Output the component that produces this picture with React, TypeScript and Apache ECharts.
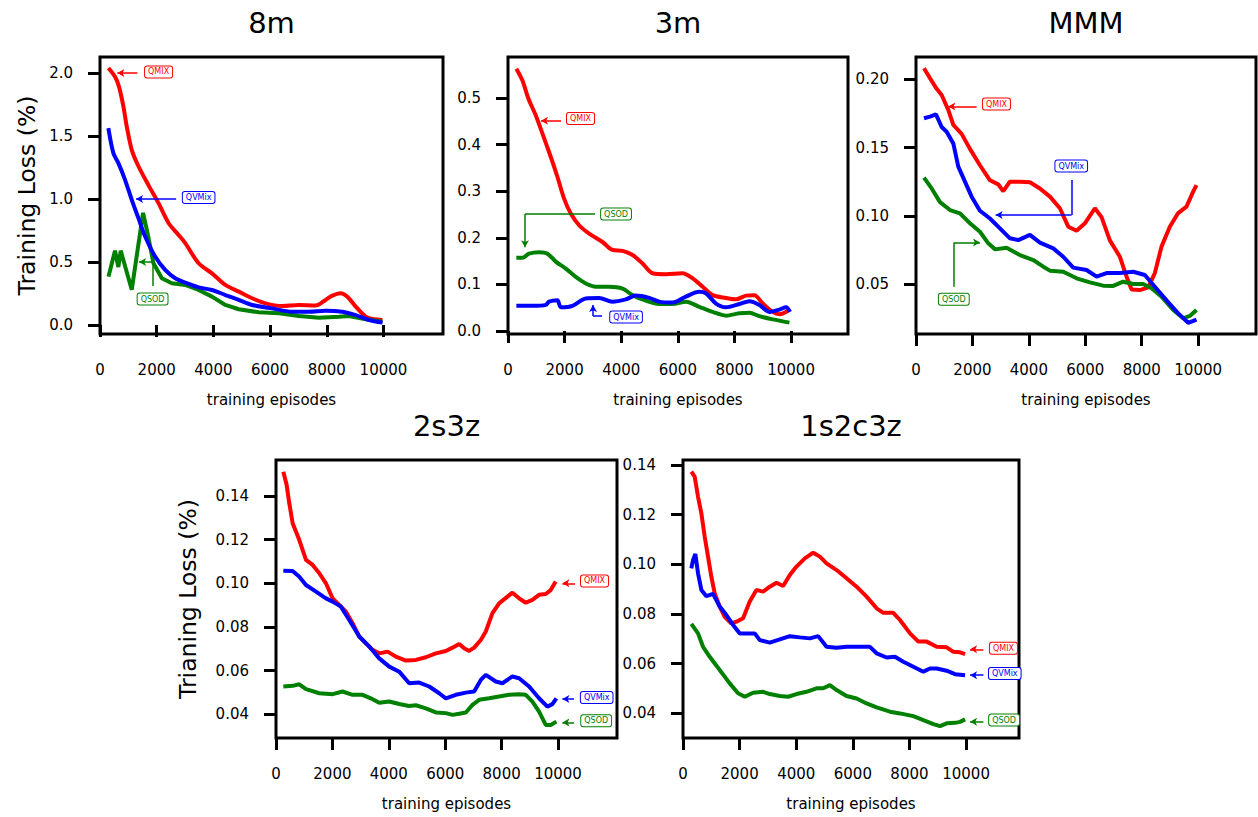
import React, { useEffect, useRef } from "react";
import * as echarts from "echarts";

// ---------------- data ----------------
const m8QmixX = [295, 531, 672, 825, 943, 1120, 1356, 1710, 2064, 2417, 2771, 3007, 3479, 3950, 4422, 4894, 5366, 5837, 6427, 7017, 7606, 7960, 8196, 8491, 8726, 9021, 9375, 9670, 9965];
const m8QmixY = [2.04, 1.97, 1.89, 1.735, 1.576, 1.39, 1.26, 1.11, 0.967, 0.81, 0.715, 0.65, 0.49, 0.41, 0.318, 0.265, 0.212, 0.172, 0.151, 0.159, 0.154, 0.199, 0.233, 0.252, 0.225, 0.146, 0.066, 0.045, 0.04];
const m8QvmixX = [295, 472, 649, 884, 1120, 1356, 1592, 1946, 2299, 2653, 3007, 3479, 3950, 4422, 4894, 5366, 6073, 6781, 7370, 7960, 8550, 9021, 9493, 9965];
const m8QvmixY = [1.563, 1.364, 1.285, 1.152, 0.993, 0.848, 0.702, 0.543, 0.437, 0.371, 0.336, 0.299, 0.278, 0.238, 0.199, 0.159, 0.132, 0.106, 0.106, 0.114, 0.106, 0.079, 0.04, 0.019];
const m8QsodX = [300, 530, 647, 730, 1120, 1519, 1686, 1887, 2181, 2535, 3007, 3479, 3950, 4422, 4894, 5601, 6309, 7017, 7724, 8432, 8785, 9375, 9965];
const m8QsodY = [0.384, 0.59, 0.46, 0.59, 0.28, 0.89, 0.72, 0.49, 0.371, 0.331, 0.318, 0.278, 0.225, 0.159, 0.125, 0.101, 0.093, 0.072, 0.058, 0.066, 0.072, 0.045, 0.026];

const m3QmixX = [295, 507, 719, 979, 1215, 1509, 1745, 1981, 2217, 2512, 2866, 3337, 3691, 4045, 4399, 4752, 5106, 5578, 6167, 6521, 6875, 7229, 7700, 8054, 8408, 8703, 8998, 9351, 9587, 9882];
const m3QmixY = [0.563, 0.538, 0.499, 0.463, 0.424, 0.374, 0.331, 0.284, 0.252, 0.227, 0.209, 0.191, 0.174, 0.172, 0.163, 0.145, 0.124, 0.122, 0.124, 0.113, 0.095, 0.077, 0.071, 0.068, 0.076, 0.077, 0.059, 0.041, 0.036, 0.043];
const m3QvmixX = [295, 861, 1333, 1450, 1745, 1863, 2276, 2748, 3219, 3691, 4163, 4517, 4988, 5342, 5814, 6285, 6757, 6993, 7347, 7700, 8172, 8526, 8880, 9233, 9587, 9823, 9965];
const m3QvmixY = [0.054, 0.054, 0.056, 0.063, 0.066, 0.051, 0.054, 0.07, 0.071, 0.063, 0.068, 0.076, 0.071, 0.063, 0.061, 0.074, 0.084, 0.081, 0.059, 0.051, 0.058, 0.064, 0.056, 0.041, 0.046, 0.051, 0.041];
const m3QsodX = [295, 507, 743, 1097, 1392, 1686, 2040, 2394, 2748, 3101, 3573, 4045, 4399, 4870, 5342, 5814, 6285, 6757, 7229, 7700, 8172, 8526, 8880, 9351, 9941];
const m3QsodY = [0.157, 0.157, 0.166, 0.169, 0.166, 0.149, 0.134, 0.116, 0.102, 0.095, 0.095, 0.091, 0.077, 0.065, 0.058, 0.058, 0.063, 0.052, 0.041, 0.033, 0.038, 0.039, 0.032, 0.025, 0.018];

const mmmQmixX = [283, 496, 732, 909, 1145, 1322, 1617, 1912, 2266, 2621, 2916, 3093, 3329, 3683, 4038, 4392, 4746, 5100, 5396, 5691, 5986, 6340, 6576, 6871, 7225, 7461, 7639, 7934, 8229, 8465, 8701, 8996, 9292, 9587, 9823, 9941];
const mmmQmixY = [0.208, 0.2007, 0.193, 0.1885, 0.1775, 0.1665, 0.16, 0.149, 0.137, 0.126, 0.123, 0.118, 0.125, 0.125, 0.1245, 0.12, 0.114, 0.1055, 0.092, 0.089, 0.0945, 0.1055, 0.099, 0.082, 0.07, 0.0555, 0.046, 0.0456, 0.0475, 0.058, 0.0774, 0.092, 0.102, 0.1067, 0.1177, 0.1225];
const mmmQvmixX = [283, 496, 709, 909, 1086, 1322, 1499, 1735, 1971, 2266, 2621, 2975, 3329, 3624, 4038, 4392, 4864, 5218, 5572, 6045, 6399, 6753, 7225, 7698, 8111, 8465, 8878, 9292, 9646, 9941];
const mmmQvmixY = [0.1714, 0.1726, 0.1743, 0.165, 0.1616, 0.153, 0.136, 0.125, 0.114, 0.1037, 0.098, 0.0908, 0.0835, 0.0822, 0.086, 0.0803, 0.0761, 0.07, 0.062, 0.0603, 0.0554, 0.058, 0.058, 0.059, 0.0566, 0.048, 0.038, 0.0285, 0.0216, 0.024];
const mmmQsodX = [283, 555, 850, 1204, 1558, 1912, 2266, 2562, 2798, 3211, 3683, 4156, 4510, 4746, 5218, 5691, 6163, 6635, 6989, 7343, 7698, 8052, 8347, 8701, 9115, 9469, 9705, 9941];
const mmmQsodY = [0.128, 0.12, 0.11, 0.1042, 0.1018, 0.0945, 0.0883, 0.0798, 0.0754, 0.0766, 0.0712, 0.0676, 0.0627, 0.0598, 0.059, 0.0542, 0.0512, 0.0488, 0.0486, 0.0517, 0.05, 0.05, 0.0469, 0.0408, 0.031, 0.0249, 0.0266, 0.031];

const s23QmixX = [260, 378, 472, 590, 826, 1063, 1299, 1535, 1771, 2007, 2243, 2479, 2715, 2952, 3188, 3424, 3660, 3955, 4250, 4604, 4959, 5313, 5667, 6021, 6257, 6494, 6671, 6848, 7025, 7261, 7438, 7674, 7910, 8205, 8382, 8619, 8855, 9091, 9327, 9563, 9740, 9917];
const s23QmixY = [0.1511, 0.145, 0.1366, 0.1275, 0.1198, 0.1107, 0.1084, 0.1046, 0.1, 0.0931, 0.0901, 0.087, 0.0817, 0.0756, 0.0725, 0.0695, 0.0679, 0.0687, 0.0664, 0.0646, 0.0649, 0.0661, 0.0679, 0.069, 0.0705, 0.0722, 0.0702, 0.069, 0.0705, 0.074, 0.0779, 0.0863, 0.0908, 0.0939, 0.0957, 0.0931, 0.0911, 0.0924, 0.0947, 0.0951, 0.0969, 0.1008];
const s23QvmixX = [260, 590, 826, 1063, 1417, 1771, 2007, 2302, 2597, 2952, 3306, 3660, 4014, 4368, 4722, 5077, 5431, 5785, 6021, 6376, 6730, 7025, 7261, 7438, 7792, 8028, 8382, 8619, 8973, 9327, 9622, 9799, 9941];
const s23QvmixY = [0.1058, 0.1056, 0.103, 0.0992, 0.0962, 0.0931, 0.0916, 0.0893, 0.0832, 0.0756, 0.071, 0.0656, 0.0618, 0.0595, 0.0542, 0.0545, 0.0527, 0.0496, 0.0473, 0.0489, 0.0499, 0.0504, 0.0557, 0.058, 0.055, 0.0542, 0.0573, 0.0565, 0.0527, 0.0473, 0.0435, 0.0446, 0.0473];
const s23QsodX = [260, 590, 826, 1063, 1535, 2007, 2361, 2715, 3070, 3424, 3660, 4014, 4368, 4722, 4959, 5313, 5667, 6021, 6257, 6494, 6730, 6966, 7202, 7556, 7910, 8264, 8619, 8855, 9091, 9327, 9563, 9740, 9941];
const s23QsodY = [0.0527, 0.053, 0.0537, 0.0515, 0.0496, 0.0492, 0.0504, 0.0489, 0.0489, 0.0469, 0.0453, 0.0458, 0.0447, 0.0438, 0.0441, 0.0427, 0.0408, 0.0405, 0.0397, 0.0402, 0.0408, 0.0443, 0.0466, 0.0473, 0.0481, 0.0489, 0.0492, 0.0489, 0.0458, 0.0412, 0.0351, 0.0351, 0.0366];

const c3QmixX = [295, 413, 531, 649, 767, 884, 1002, 1120, 1297, 1474, 1710, 1887, 2123, 2358, 2594, 2830, 3066, 3302, 3538, 3774, 4009, 4304, 4599, 4835, 5071, 5425, 5778, 6132, 6486, 6840, 7075, 7429, 7665, 8019, 8314, 8608, 8962, 9316, 9552, 9788, 9965];
const c3QmixY = [0.1373, 0.1353, 0.1272, 0.1205, 0.1111, 0.1031, 0.095, 0.0883, 0.083, 0.0789, 0.0762, 0.0769, 0.0783, 0.085, 0.0897, 0.089, 0.091, 0.0926, 0.0913, 0.0957, 0.0991, 0.1024, 0.1047, 0.1031, 0.1004, 0.0977, 0.0944, 0.091, 0.087, 0.0823, 0.0805, 0.0805, 0.0776, 0.0722, 0.0689, 0.0689, 0.0668, 0.0666, 0.0648, 0.0646, 0.0639];
const c3QvmixX = [295, 354, 436, 531, 649, 826, 1061, 1297, 1533, 1769, 2005, 2241, 2535, 2712, 3066, 3420, 3774, 4127, 4481, 4776, 5071, 5425, 5778, 6250, 6604, 6840, 7193, 7488, 7783, 8137, 8491, 8726, 8962, 9316, 9611, 9965];
const c3QvmixY = [0.0984, 0.1017, 0.1042, 0.0964, 0.0897, 0.0872, 0.0881, 0.083, 0.0796, 0.0756, 0.0722, 0.0722, 0.0722, 0.0695, 0.0685, 0.0698, 0.0711, 0.0706, 0.0702, 0.0711, 0.0668, 0.0664, 0.0668, 0.0668, 0.0668, 0.0642, 0.0625, 0.0628, 0.0608, 0.0588, 0.0568, 0.0581, 0.0581, 0.0572, 0.0558, 0.0554];
const c3QsodX = [295, 531, 708, 944, 1297, 1651, 1946, 2182, 2476, 2830, 3066, 3420, 3715, 4009, 4363, 4717, 4953, 5189, 5425, 5778, 6132, 6486, 6840, 7311, 7665, 8137, 8491, 8844, 9080, 9316, 9611, 9788, 9965];
const c3QsodY = [0.076, 0.0722, 0.0668, 0.0628, 0.0575, 0.0521, 0.0481, 0.0467, 0.0483, 0.0487, 0.0478, 0.047, 0.0467, 0.0478, 0.0487, 0.0501, 0.0501, 0.0514, 0.0494, 0.047, 0.046, 0.044, 0.0424, 0.0407, 0.04, 0.0389, 0.0373, 0.0357, 0.0349, 0.036, 0.0362, 0.0366, 0.0376];

const titles = ["8m", "3m", "MMM", "2s3z", "1s2c3z"];
const xTicks = [0, 2000, 4000, 6000, 8000, 10000];
const yTicks8m = [0, 0.5, 1.0, 1.5, 2.0];
const yTicks3m = [0, 0.1, 0.2, 0.3, 0.4, 0.5];
const yTicksMMM = [0.05, 0.1, 0.15, 0.2];
const yTicksSmall = [0.04, 0.06, 0.08, 0.1, 0.12, 0.14];

// annotation anchors (data coordinates): label centre, arrow polyline (arrow head at last point)
const notes8m = [
  { name: "QMIX", label: [2067, 2.008], arrow: [[1318, 2.0], [612, 2.0]] },
  { name: "QVMix", label: [3480, 1.012], arrow: [[2686, 1.0], [1272, 1.0]] },
  { name: "QSOD", label: [1855, 0.206], arrow: [[1873, 0.31], [1873, 0.5], [1378, 0.5]] },
];
const notes3m = [
  { name: "QMIX", label: [2562, 0.456], arrow: [[1873, 0.451], [1166, 0.451]] },
  { name: "QVMix", label: [4170, 0.03], arrow: [[3322, 0.032], [3004, 0.032], [3004, 0.056]] },
  { name: "QSOD", label: [3816, 0.251], arrow: [[3074, 0.251], [600, 0.251], [600, 0.18]] },
];
const notesMMM = [
  { name: "QMIX", label: [2851, 0.1818], arrow: [[2149, 0.18], [1145, 0.18]] },
  { name: "QVMix", label: [5502, 0.1364], arrow: [[5514, 0.1262], [5514, 0.1006], [2822, 0.1006]] },
  { name: "QSOD", label: [1340, 0.0389], arrow: [[1346, 0.048], [1346, 0.0805], [2267, 0.0805]] },
];
const notes2s3z = [
  { name: "QMIX", label: [11293, 0.1011], arrow: [[10602, 0.1], [10153, 0.1]] },
  { name: "QVMix", label: [11370, 0.0477], arrow: [[10567, 0.047], [10153, 0.047]] },
  { name: "QSOD", label: [11352, 0.037], arrow: [[10567, 0.0362], [10153, 0.0362]] },
];
const notes1s2c3z = [
  { name: "QMIX", label: [11321, 0.0662], arrow: [[10613, 0.0658], [10142, 0.0658]] },
  { name: "QVMix", label: [11368, 0.0561], arrow: [[10613, 0.0554], [10142, 0.0554]] },
  { name: "QSOD", label: [11344, 0.0373], arrow: [[10613, 0.0366], [10142, 0.0366]] },
];

// ---------------- styling / layout ----------------
const FONT = "DejaVu Sans";
const COLORS: Record<string, string> = { QMIX: "#ff0000", QVMix: "#0000ff", QSOD: "#008000" };

const zip = (xs: number[], ys: number[]) => xs.map((x, i) => [x, ys[i]]);

const panels = [
  {
    grid: { left: 100, top: 57, width: 343, height: 277 },
    xMax: 12100, yMin: -0.0714, yMax: 2.127, yTicks: yTicks8m, dec: 1,
    yName: "Training Loss (%)", yNameGap: 61, smooth: true,
    data: { QMIX: zip(m8QmixX, m8QmixY), QVMix: zip(m8QvmixX, m8QvmixY), QSOD: zip(m8QsodX, m8QsodY) },
    notes: notes8m,
  },
  {
    grid: { left: 508, top: 57, width: 340, height: 277 },
    xMax: 12010, yMin: -0.0064, yMax: 0.588, yTicks: yTicks3m, dec: 1,
    yName: "", yNameGap: 0, smooth: true,
    data: { QMIX: zip(m3QmixX, m3QmixY), QVMix: zip(m3QvmixX, m3QvmixY), QSOD: zip(m3QsodX, m3QsodY) },
    notes: notes3m,
  },
  {
    grid: { left: 916, top: 57, width: 340, height: 277 },
    xMax: 12050, yMin: 0.0134, yMax: 0.2163, yTicks: yTicksMMM, dec: 2,
    yName: "", yNameGap: 0, smooth: false,
    data: { QMIX: zip(mmmQmixX, mmmQmixY), QVMix: zip(mmmQvmixX, mmmQvmixY), QSOD: zip(mmmQsodX, mmmQsodY) },
    notes: notesMMM,
  },
  {
    grid: { left: 276, top: 460, width: 341, height: 278 },
    xMax: 12090, yMin: 0.0291, yMax: 0.1565, yTicks: yTicksSmall, dec: 2,
    yName: "Trianing Loss (%)", yNameGap: 76, smooth: false,
    data: { QMIX: zip(s23QmixX, s23QmixY), QVMix: zip(s23QvmixX, s23QvmixY), QSOD: zip(s23QsodX, s23QsodY) },
    notes: notes2s3z,
  },
  {
    grid: { left: 683, top: 460, width: 336, height: 278 },
    xMax: 11870, yMin: 0.0301, yMax: 0.142, yTicks: yTicksSmall, dec: 2,
    yName: "", yNameGap: 0, smooth: false,
    data: { QMIX: zip(c3QmixX, c3QmixY), QVMix: zip(c3QvmixX, c3QvmixY), QSOD: zip(c3QsodX, c3QsodY) },
    notes: notes1s2c3z,
  },
];

function buildOption() {
  const grids: any[] = [];
  const xAxes: any[] = [];
  const yAxes: any[] = [];
  const series: any[] = [];
  const graphics: any[] = [];

  panels.forEach((p, i) => {
    grids.push({
      ...p.grid,
      show: true,
      borderColor: "#000",
      borderWidth: 3,
      backgroundColor: "#fff",
      containLabel: false,
    });
    xAxes.push({
      type: "value",
      gridIndex: i,
      min: 0,
      max: p.xMax,
      name: "training episodes",
      nameLocation: "middle",
      nameGap: 58,
      nameTextStyle: { fontSize: 15, color: "#000", fontFamily: FONT },
      axisLine: { show: false },
      splitLine: { show: false },
      axisTick: { show: true, inside: false, length: 12, customValues: xTicks, lineStyle: { color: "#000", width: 3 } },
      axisLabel: {
        show: true, margin: 28, fontSize: 15, color: "#000", fontFamily: FONT,
        customValues: xTicks, formatter: (v: number) => String(v),
      },
    });
    yAxes.push({
      type: "value",
      gridIndex: i,
      min: p.yMin,
      max: p.yMax,
      name: p.yName,
      nameLocation: "middle",
      nameGap: p.yNameGap,
      nameTextStyle: { fontSize: 23.5, color: "#000", fontFamily: FONT },
      axisLine: { show: false },
      splitLine: { show: false },
      axisTick: { show: true, inside: false, length: 12, customValues: p.yTicks, lineStyle: { color: "#000", width: 3 } },
      axisLabel: {
        show: true, margin: 27, fontSize: 15, color: "#000", fontFamily: FONT,
        customValues: p.yTicks, formatter: (v: number) => v.toFixed(p.dec),
      },
    });

    (["QMIX", "QSOD", "QVMix"] as const).forEach((key) => {
      const color = COLORS[key];
      const note = p.notes.find((n) => n.name === key)!;
      const segs: any[] = [];
      for (let k = 0; k < note.arrow.length - 1; k++) {
        const last = k === note.arrow.length - 2;
        segs.push([
          { coord: note.arrow[k], symbol: "none" },
          { coord: note.arrow[k + 1], symbol: last ? "arrow" : "none", symbolSize: last ? [6, 7] : 0 },
        ]);
      }
      const jagged = i === 0 && key === "QSOD";
      series.push({
        type: "line",
        name: key,
        xAxisIndex: i,
        yAxisIndex: i,
        data: (p.data as any)[key],
        showSymbol: false,
        symbol: "none",
        smooth: p.smooth && !jagged ? 0.3 : false,
        silent: true,
        lineStyle: { color, width: 4 },
        itemStyle: { color },
        emphasis: { disabled: true },
        markLine: {
          silent: true,
          animation: false,
          symbol: ["none", "arrow"],
          symbolSize: [6, 7],
          label: { show: false },
          lineStyle: { color, width: 1.5, type: "solid" },
          emphasis: { disabled: true },
          data: segs,
        },
        markPoint: {
          silent: true,
          animation: false,
          symbol: "rect",
          symbolSize: 1,
          itemStyle: { color: "rgba(0,0,0,0)" },
          label: {
            show: true,
            position: "inside",
            formatter: key,
            color,
            fontSize: 8,
            fontFamily: FONT,
            backgroundColor: "#fff",
            borderColor: color,
            borderWidth: 1,
            borderRadius: 2,
            padding: [2, 3, 1, 3],
          },
          emphasis: { disabled: true },
          data: [{ coord: note.label }],
        },
      });
    });

    graphics.push({
      type: "text",
      x: p.grid.left + p.grid.width / 2,
      y: p.grid.top - 34,
      style: {
        text: titles[i],
        fill: "#000",
        font: `29px "${FONT}"`,
        textAlign: "center",
        textVerticalAlign: "middle",
      },
    });
  });

  return {
    animation: false,
    backgroundColor: "#fff",
    textStyle: { fontFamily: FONT },
    grid: grids,
    xAxis: xAxes,
    yAxis: yAxes,
    series,
    graphic: graphics,
  };
}

export default function App() {
  const ref = useRef<HTMLDivElement>(null);
  useEffect(() => {
    if (!ref.current) return;
    const chart = echarts.init(ref.current, undefined, { renderer: "svg" });
    chart.setOption(buildOption() as any);
    return () => chart.dispose();
  }, []);
  return (
    <div
      ref={ref}
      style={{ position: "fixed", left: 0, top: 0, width: 1258, height: 817, background: "#fff" }}
    />
  );
}
